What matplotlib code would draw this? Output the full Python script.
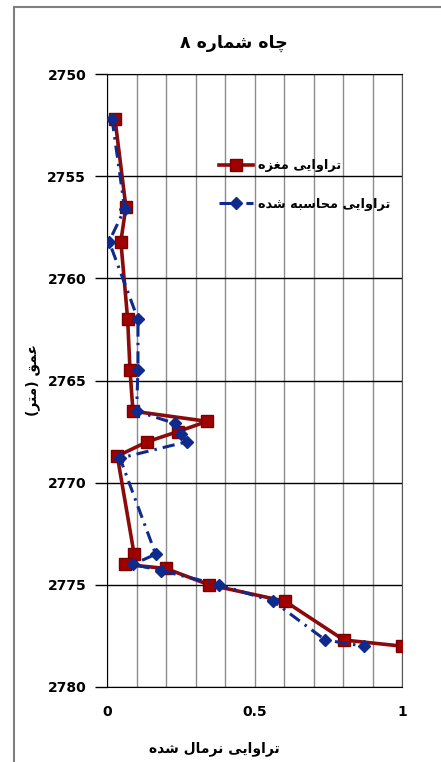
#!/usr/bin/env python3
"""Well no. 8: core vs calculated normalized permeability against depth."""

import matplotlib.pyplot as plt
from matplotlib.lines import Line2D
from matplotlib.ticker import MultipleLocator

# Persian strings written in visual order with presentation forms,
# since matplotlib does no Arabic shaping or bidi reordering.
TITLE = "\u06F8 \uFEE9\uFEAD\uFE8E\uFEE4\uFEB7 \uFEE9\uFE8E\uFB7C"          # چاه شماره ۸
LABEL_CORE = "\uFEE9\uFEB0\uFED0\uFEE3 \uFEF0\uFEF3\uFE8D\uFEED\uFE8D\uFEAE\uFE97"  # تراوایی مغزه
LABEL_CALC = ("\uFEE9\uFEAA\uFEB7 \uFEEA\uFE92\uFEB3\uFE8E\uFEA4\uFEE3 "
              "\uFEF0\uFEF3\uFE8D\uFEED\uFE8D\uFEAE\uFE97")                    # تراوایی محاسبه شده
XLABEL = ("\uFEE9\uFEAA\uFEB7 \uFEDD\uFE8E\uFEE3\uFEAE\uFEE7 "
          "\uFEF0\uFEF3\uFE8D\uFEED\uFE8D\uFEAE\uFE97")                        # تراوایی نرمال شده
YLABEL = "(\uFEAE\uFE98\uFEE3) \uFED6\uFEE4\uFECB"                             # عمق (متر)

# core permeability (normalized) vs depth [m]
core_depth = [2752.2, 2756.5, 2758.2, 2762.0, 2764.5, 2766.5, 2767.0, 2767.5,
              2768.0, 2768.7, 2773.5, 2774.0, 2774.2, 2775.0, 2775.8, 2777.7, 2778.0]
core_perm = [0.027, 0.064, 0.047, 0.070, 0.078, 0.088, 0.340, 0.240,
             0.136, 0.035, 0.092, 0.061, 0.200, 0.346, 0.603, 0.803, 1.000]

# calculated permeability (normalized) vs depth [m]
calc_depth = [2752.2, 2756.6, 2758.2, 2762.0, 2764.5, 2766.5, 2767.1, 2767.6,
              2768.0, 2768.8, 2773.5, 2774.0, 2774.3, 2775.0, 2775.8, 2777.7, 2778.0]
calc_perm = [0.017, 0.060, 0.007, 0.105, 0.105, 0.100, 0.230, 0.250,
             0.270, 0.044, 0.165, 0.088, 0.183, 0.380, 0.563, 0.740, 0.870]

RED = "#8b0a0a"
BLUE = "#0d2a8c"
DASHDOT = (0, (4, 2, 0.8, 2))

fig = plt.figure(figsize=(4.41, 7.62), dpi=100)
ax = fig.add_axes([107 / 441, 1 - 687 / 762, 295 / 441, 613 / 762])

ax.plot(core_perm, core_depth, color=RED, lw=2.6, marker="s", ms=8,
        markerfacecolor="#a00000", markeredgecolor="#7a0000", zorder=3)
ax.plot(calc_perm, calc_depth, color=BLUE, lw=2.2, ls=DASHDOT,
        marker="D", ms=6, markerfacecolor=BLUE, markeredgecolor=BLUE, zorder=4)

ax.set_xlim(0, 1)
ax.set_ylim(2780, 2750)
ax.xaxis.set_major_locator(MultipleLocator(0.5))
ax.xaxis.set_minor_locator(MultipleLocator(0.1))
ax.yaxis.set_major_locator(MultipleLocator(5))
ax.xaxis.set_major_formatter(lambda v, p: f"{v:g}")
ax.grid(True, axis="y", color="black", lw=1.0)
ax.grid(True, axis="x", which="both", color="#8c8c8c", lw=1.0)
ax.set_axisbelow(True)

ax.tick_params(axis="y", direction="out", length=9, width=1, pad=6, labelsize=10)
ax.tick_params(axis="x", length=0, pad=13, labelsize=10)
ax.tick_params(axis="x", which="minor", length=0)
for lab in ax.get_xticklabels() + ax.get_yticklabels():
    lab.set_fontweight("bold")

for side in ["left", "bottom", "top"]:
    ax.spines[side].set_color("black")
ax.spines["right"].set_color("#555555")

ax.set_xlabel(XLABEL, fontsize=10, fontweight="bold")
ax.xaxis.set_label_coords(0.365, -0.088)
ax.set_ylabel(YLABEL, fontsize=10, fontweight="bold")
ax.yaxis.set_label_coords(-0.227, 0.5)
fig.text(0.53, 1 - 43 / 762, TITLE, ha="center", va="center",
         fontsize=12.5, fontweight="bold")

handles = [
    Line2D([], [], color=RED, lw=2.6, marker="s", ms=8, markerfacecolor="#a00000",
           markeredgecolor="#7a0000"),
    Line2D([], [], color=BLUE, lw=2.2, ls=DASHDOT, marker="D", ms=6,
           markerfacecolor=BLUE, markeredgecolor=BLUE),
]
leg = ax.legend(handles, [LABEL_CORE, LABEL_CALC], loc="upper left",
                bbox_to_anchor=(0.34, 0.88), frameon=False, handlelength=2.6,
                handletextpad=0.45, labelspacing=2.0, prop=dict(size=9.3, weight="bold"))

# outer chart frame (left and top edges visible)
fig.add_artist(Line2D([14 / 441, 14 / 441], [0, 1 - 7 / 762], color="#7f7f7f", lw=1.5))
fig.add_artist(Line2D([14 / 441, 1], [1 - 7 / 762, 1 - 7 / 762], color="#7f7f7f", lw=1.5))

fig.savefig("out.png", dpi=100)
